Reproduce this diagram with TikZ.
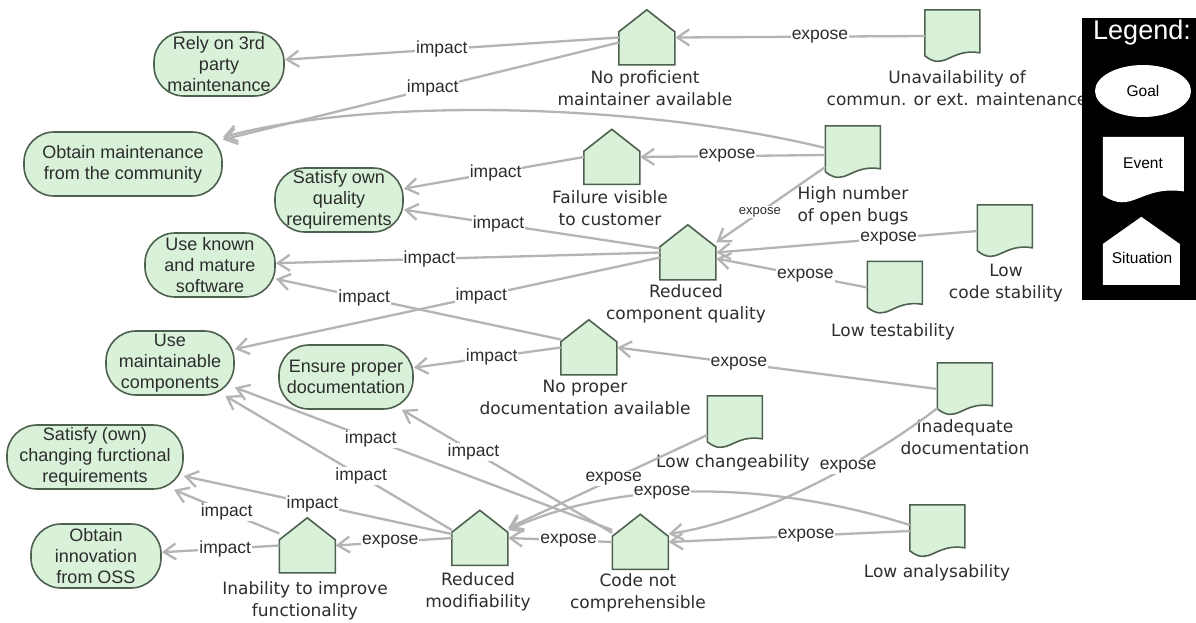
\documentclass[tikz,border=0pt]{standalone}
\usepackage{fontspec}
\setmainfont{Liberation Sans}
\newfontfamily\djv{DejaVu Sans}
\usetikzlibrary{arrows.meta,calc,shapes.geometric}
\definecolor{nodegreen}{RGB}{216,241,216}
\definecolor{nodeborder}{RGB}{78,96,78}
\definecolor{edgegray}{RGB}{180,180,180}
\definecolor{txt}{RGB}{45,45,45}
\tikzset{
 goal/.style={rectangle, rounded corners=30pt, draw=nodeborder, line width=1.6pt, fill=nodegreen, inner sep=0pt, minimum height=64pt, align=center, text=txt, font=\fontsize{18}{21}\selectfont},
 sitn/.style={rectangle, inner sep=0pt, minimum width=56pt, minimum height=55pt},
 evtn/.style={rectangle, inner sep=0pt, minimum width=55pt, minimum height=52pt},
 shp/.style={draw=nodeborder, line width=1.6pt, fill=nodegreen, line join=miter},
 nlabel/.style={align=center, text=txt, inner sep=0pt, font=\djv\fontsize{17}{22}\selectfont},
 conn/.style={draw=edgegray, line width=2.3pt, -{Straight Barb[length=12pt,width=16pt]}},
 elbl/.style={fill=white, inner sep=1pt, text=txt, font=\fontsize{17.5}{19}\selectfont},
 legtxt/.style={inner sep=0pt, text=black, font=\fontsize{15.5}{17}\selectfont},
}
\newcommand\housedraw[3][]{\begin{scope}[shift={(#2.north west)},#1]\path[#3] (0,55) -- (0,22) -- (28,0) -- (56,22) -- (56,55) -- cycle;\end{scope}}
\newcommand\docdraw[3][]{\begin{scope}[shift={(#2.north west)},#1]\path[#3] (0,0) -- (55,0) -- (55,43) .. controls (25,38) and (20,62) .. (0,46) -- cycle;\end{scope}}
\begin{document}
\begin{tikzpicture}[x=1pt,y=-1pt]
\useasboundingbox[fill=white] (0,0) rectangle (1196,622);
% goals
\node[goal, minimum width=130pt] (grely) at (219,64) {Rely on 3rd\\party\\maintenance};
\node[goal, minimum width=198pt] (gobm) at (123,164) {Obtain maintenance\\from the community};
\node[goal, minimum width=128pt] (gsq) at (339,200) {Satisfy own\\quality\\requirements};
\node[goal, minimum width=130pt] (guk) at (210,265) {Use known\\and mature\\software};
\node[goal, minimum width=128pt] (gum) at (170,363) {Use\\maintainable\\components};
\node[goal, minimum width=134pt] (ged) at (346,377) {Ensure proper\\documentation};
\node[goal, minimum width=176pt] (gsc) at (95,457) {Satisfy (own)\\changing furctional\\requirements};
\node[goal, minimum width=130pt] (goi) at (96,556) {Obtain\\innovation\\from OSS};
% situations
\node[sitn] (s1) at (647,37.5) {};
\node[sitn] (s2) at (612,157) {};
\node[sitn] (s3) at (688,252.5) {};
\node[sitn] (s4) at (589,347.5) {};
\node[sitn] (sia) at (307.5,545.5) {};
\node[sitn] (srm) at (480,538) {};
\node[sitn] (scc) at (640.5,542) {};
\foreach \n in {s1,s2,s3,s4,sia,srm,scc}{\housedraw{\n}{shp}}
% events
\node[evtn] (euc) at (952.5,36) {};
\node[evtn] (ehb) at (853,152) {};
\node[evtn] (els) at (1005,231) {};
\node[evtn] (elt) at (895,287.5) {};
\node[evtn] (eid) at (965,389) {};
\node[evtn] (elc) at (735,422) {};
\node[evtn] (ela) at (937.5,531) {};
\foreach \n in {euc,ehb,els,elt,eid,elc,ela}{\docdraw{\n}{shp}}
% labels
\node[nlabel] (s1l) at (645,88) {No proficient\\maintainer available};
\node[nlabel] (s2l) at (610,208) {Failure visible\\to customer};
\node[nlabel] (s3l) at (686,304) {Reduced\\component quality};
\node[nlabel] (s4l) at (585,397.5) {No proper\\documentation available};
\node[nlabel] (sial) at (305,601) {Inability to improve\\functionality};
\node[nlabel] (srml) at (478,591.5) {Reduced\\modifiability};
\node[nlabel] (sccl) at (638,592.5) {Code not\\comprehensible};
\node[nlabel] (eucl) at (957,88) {Unavailability of\\commun. or ext. maintenance};
\node[nlabel] (ehbl) at (853,205.5) {High number\\of open bugs};
\node[nlabel] (elsl) at (1006,283.5) {Low\\code stability};
\node[nlabel] (eltl) at (893,332) {Low testability};
\node[nlabel] (eidl) at (965,437) {Inadequate\\documentation};
\node[nlabel] (elcl) at (733,463) {Low changeability};
\node[nlabel] (elal) at (937,573) {Low analysability};
% connectors
\draw[conn] (s1.west) -- node[elbl,pos=0.53] (c1) {impact} (grely);
\draw[conn] ([yshift=-5]s1.west) -- node[elbl,pos=0.47] (c2) {impact} (gobm);
\draw[conn] (euc.west) -- node[elbl,pos=0.42] (c3) {expose} (s1.east);
\draw[conn] ([yshift=4]ehb.west) .. controls (650,105) and (380,95) .. (gobm);
\draw[conn] ([yshift=-3]ehb.west) -- node[elbl,pos=0.53] (c5) {expose} (s2.east);
\draw[conn] ([yshift=-15]ehb.west) -- node[elbl,pos=0.6,font=\fontsize{13}{14}\selectfont] (c6) {expose} ([yshift=10]s3.east);
\draw[conn] (s2.west) -- node[elbl,pos=0.49] (c7) {impact} (gsq);
\draw[conn] ([yshift=4]s3.west) -- node[elbl,pos=0.63] (c8) {impact} (gsq);
\draw[conn] (s3.west) -- node[elbl,pos=0.6] (c9) {impact} (guk);
\draw[conn] ([yshift=-5]s3.west) -- node[elbl,pos=0.42] (c10) {impact} (gum);
\draw[conn] (els.west) -- node[elbl,pos=0.34] (c11) {expose} (s3.east);
\draw[conn] (elt.west) -- node[elbl,pos=0.41] (c12) {expose} ([yshift=-6]s3.east);
\draw[conn] ([yshift=8]s4.west) -- node[elbl,pos=0.69] (c13) {impact} (guk);
\draw[conn] (s4.west) -- node[elbl,pos=0.47] (c14) {impact} (ged);
\draw[conn] (eid.west) -- node[elbl,pos=0.62] (c15) {expose} (s4.east);
\draw[conn] ([yshift=7]eid.south west) .. controls (870,460) and (760,520) .. node[elbl,pos=0.37] (c16) {expose} ([yshift=8]scc.east);
\draw[conn] (ela.west) -- node[elbl,pos=0.43] (c17) {expose} (scc.east);
\draw[conn] ([yshift=6]ela.west) .. controls (800,490) and (640,470) .. node[elbl,pos=0.63] (c18) {expose} ([yshift=8]srm.east);
\draw[conn] ([yshift=-13]elc.west) -- node[elbl,pos=0.47] (c19) {expose} ([yshift=10]srm.east);
\draw[conn] (scc.west) -- node[elbl,pos=0.42] (c20) {expose} (srm.east);
\draw[conn] ([yshift=12]scc.west) -- node[elbl,pos=0.64] (c21) {impact} (gum);
\draw[conn] ([yshift=9]scc.west) -- node[elbl,pos=0.66] (c22) {impact} (ged);
\draw[conn] ([yshift=8]srm.west) -- node[elbl,pos=0.40] (c23) {impact} (gum);
\draw[conn] ([yshift=4]srm.west) -- node[elbl,pos=0.52] (c24) {impact} (gsc);
\draw[conn] (srm.west) -- node[elbl,pos=0.53] (c25) {expose} (sia.east);
\draw[conn] ([yshift=12]sia.west) -- node[elbl,pos=0.5] (c26) {impact} (gsc);
\draw[conn] (sia.west) -- node[elbl,pos=0.46] (c27) {impact} (goi);
% legend
\node[fill=black, minimum width=114pt, minimum height=282pt, inner sep=0pt] (leg) at (1139,159) {};
\node[inner sep=0pt, text=white, font=\fontsize{27}{30}\selectfont] (legt) at (1142,33) {Legend:};
\node[ellipse, fill=white, minimum width=96pt, minimum height=52pt, inner sep=0pt, legtxt] (lgoal) at (1143,91) {Goal};
\node[inner sep=0pt, minimum width=81pt, minimum height=66pt] (levt) at (1143.5,170) {};
\docdraw[xscale=1.4727,yscale=1.2692]{levt}{fill=white}
\node[legtxt] (levtt) at (1143,163) {Event};
\node[inner sep=0pt, minimum width=77pt, minimum height=68pt] (lsit) at (1141.5,251) {};
\housedraw[xscale=1.375,yscale=1.236]{lsit}{fill=white}
\node[legtxt] (lsitt) at (1142,258) {Situation};
\end{tikzpicture}
\end{document}
